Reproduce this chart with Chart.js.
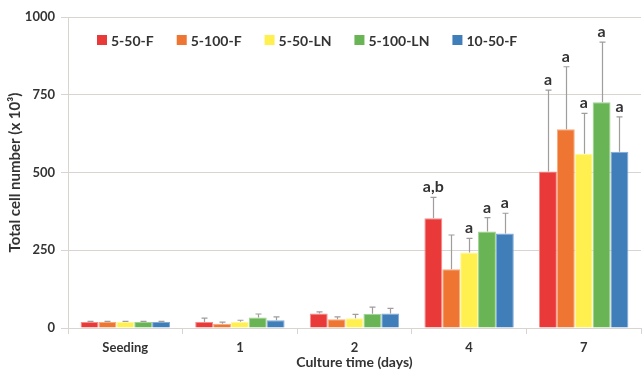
<!DOCTYPE html>
<html>
<head>
<meta charset="utf-8">
<script src="https://cdn.jsdelivr.net/npm/chart.js@4"></script>
<style>
  body { margin: 0; background: #fff; }
</style>
</head>
<body>
<canvas id="grafico" width="644" height="372"></canvas>
<script>
// data
const categorias = ['Seeding', '1', '2', '4', '7'];
const series = ['5-50-F', '5-100-F', '5-50-LN', '5-100-LN', '10-50-F'];
const colores = ['rgb(233, 57, 56)', 'rgb(238, 118, 50)', 'rgb(255, 240, 80)', 'rgb(105, 180, 84)', 'rgb(64, 126, 186)'];
const bordes = ['rgb(245, 140, 140)', 'rgb(246, 170, 125)', 'rgb(255, 247, 160)', 'rgb(160, 210, 145)', 'rgb(130, 170, 215)'];

const media_5_50_F = [19, 19, 47, 353, 503];
const media_5_100_F = [19, 14, 28, 189, 639];
const media_5_50_LN = [19, 20, 31, 243, 560];
const media_5_100_LN = [19, 34, 46, 310, 726];
const media_10_50_F = [19, 25, 47, 304, 567];

const error_5_50_F = [2, 13, 5, 67, 262];
const error_5_100_F = [2, 5, 8, 110, 201];
const error_5_50_LN = [2, 5, 13, 45, 130];
const error_5_100_LN = [2, 11, 21, 45, 193];
const error_10_50_F = [2, 11, 16, 65, 112];

const letras_5_50_F = ['', '', '', 'a,b', 'a'];
const letras_5_100_F = ['', '', '', '', 'a'];
const letras_5_50_LN = ['', '', '', 'a', 'a'];
const letras_5_100_LN = ['', '', '', 'a', 'a'];
const letras_10_50_F = ['', '', '', 'a', 'a'];

const yTicks = [0, 250, 500, 750, 1000];

const medias = [media_5_50_F, media_5_100_F, media_5_50_LN, media_5_100_LN, media_10_50_F];
const errores = [error_5_50_F, error_5_100_F, error_5_50_LN, error_5_100_LN, error_10_50_F];
const letras = [letras_5_50_F, letras_5_100_F, letras_5_50_LN, letras_5_100_LN, letras_10_50_F];

const fuente = 'Lato, "Liberation Sans", sans-serif';
const texto = '#333333';
const grilla = 'rgb(217, 212, 208)';

// upper error bars + significance letters
const barrasError = {
    id: 'barrasError',
    afterDatasetsDraw(chart) {
        const ctx = chart.ctx;
        const y = chart.scales.y;
        ctx.save();
        chart.data.datasets.forEach((ds, i) => {
            const meta = chart.getDatasetMeta(i);
            meta.data.forEach((bar, j) => {
                const yBar = y.getPixelForValue(ds.data[j]);
                const yTop = y.getPixelForValue(ds.data[j] + errores[i][j]);
                const xb = Math.round(bar.x) + 0.5;
                ctx.strokeStyle = 'rgb(160, 157, 155)';
                ctx.lineWidth = 1.2;
                ctx.beginPath();
                ctx.moveTo(xb, yBar);
                ctx.lineTo(xb, yTop);
                ctx.moveTo(xb - 3, yTop);
                ctx.lineTo(xb + 3, yTop);
                ctx.stroke();
                if (letras[i][j]) {
                    ctx.fillStyle = texto;
                    ctx.font = 'bold 16px ' + fuente;
                    ctx.textAlign = 'center';
                    ctx.textBaseline = 'alphabetic';
                    ctx.fillText(letras[i][j], bar.x, yTop - 5);
                }
            });
        });
        ctx.restore();
    }
};

// one-row legend inside the plot area
const leyenda = {
    id: 'leyenda',
    afterDraw(chart) {
        const ctx = chart.ctx;
        const area = chart.chartArea;
        let x = area.left + 29;
        const yc = area.top + 23;
        ctx.save();
        ctx.font = 'bold 14px ' + fuente;
        ctx.textBaseline = 'middle';
        ctx.textAlign = 'left';
        chart.data.datasets.forEach((ds) => {
            ctx.fillStyle = ds.backgroundColor;
            ctx.fillRect(x, yc - 5, 10, 10);
            ctx.fillStyle = texto;
            ctx.fillText(ds.label, x + 14, yc + 1);
            x += 14 + ctx.measureText(ds.label).width + 23;
        });
        ctx.restore();
    }
};

const data = {
    labels: categorias,
    datasets: series.map((nombre, i) => ({
        label: nombre,
        data: medias[i],
        backgroundColor: colores[i],
        borderColor: bordes[i],
        borderWidth: 1,
        categoryPercentage: 0.78,
        barPercentage: 1.0
    }))
};

const config = {
    type: 'bar',
    data: data,
    plugins: [barrasError, leyenda],
    options: {
        responsive: false,
        animation: false,
        devicePixelRatio: 1,
        layout: {
            padding: { left: 2, right: 3, top: 17, bottom: 0 }
        },
        plugins: {
            legend: { display: false },
            tooltip: { enabled: false }
        },
        scales: {
            x: {
                grid: {
                    offset: true,
                    drawOnChartArea: false,
                    tickLength: 6,
                    color: grilla
                },
                border: { color: grilla },
                ticks: {
                    color: texto,
                    padding: 6,
                    font: { family: fuente, size: 13, weight: 'bold' }
                },
                title: {
                    display: true,
                    text: 'Culture time (days)',
                    color: texto,
                    padding: { top: 0, bottom: 1 },
                    font: { family: fuente, size: 14, weight: 'bold' }
                },
                afterFit: (scale) => { scale.height = 44; }
            },
            y: {
                min: 0,
                max: 1000,
                afterBuildTicks: (scale) => { scale.ticks = yTicks.map(v => ({ value: v })); },
                grid: {
                    color: grilla,
                    tickLength: 7
                },
                border: { color: grilla },
                ticks: {
                    color: texto,
                    padding: 6,
                    callback: (v) => String(v),
                    font: { family: fuente, size: 13, weight: 'bold' }
                },
                title: {
                    display: true,
                    text: 'Total cell number (x 10³)',
                    color: texto,
                    padding: { top: 4, bottom: 0 },
                    font: { family: fuente, size: 15, weight: 'bold' }
                },
                afterFit: (scale) => { scale.width = 66; }
            }
        }
    }
};

const myChart = new Chart(document.getElementById('grafico'), config);
</script>
</body>
</html>
